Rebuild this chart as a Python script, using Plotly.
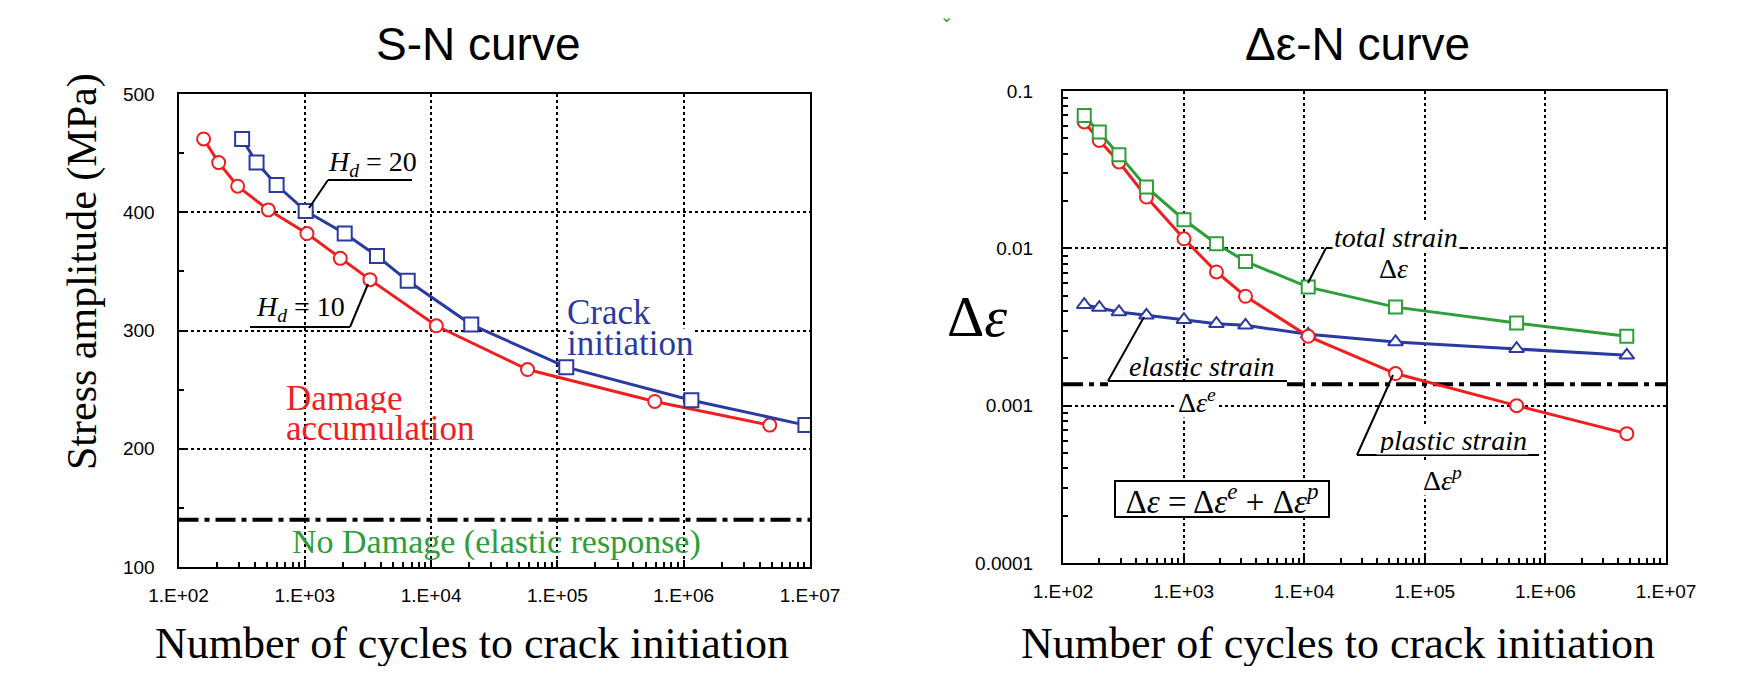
import plotly.graph_objects as go

# ---------------- data ----------------
# S-N curve (left)
sn_cycles_damage = [158, 208, 294, 514, 1040, 1910, 3280, 11000, 58000, 590000, 4.8e6]
sn_stress_damage = [462, 442, 422, 402, 382, 361, 343, 304, 267, 240, 220]
sn_cycles_crack = [319, 415, 598, 1016, 2070, 3730, 6530, 20800, 117500, 1.15e6, 9.2e6]
sn_stress_crack = [462, 442, 423, 401, 382, 363, 342, 305, 269, 241, 220]
sn_endurance_x = [1e2, 1e7]
sn_endurance_y = [140, 140]

# strain-life curve (right)
en_cycles = [150, 200, 291, 492, 1007, 1872, 3260, 10800, 57200, 577000, 4.73e6]
en_total = [0.0699, 0.0548, 0.0394, 0.0245, 0.0152, 0.0107, 0.00826, 0.00567, 0.00423, 0.00335, 0.00276]
en_plastic = [0.0636, 0.0485, 0.0354, 0.0212, 0.0115, 0.00708, 0.00496, 0.00276, 0.00160, 0.00100, 0.000664]
en_elastic = [0.00438, 0.0042, 0.00394, 0.00375, 0.00352, 0.00332, 0.00324, 0.00284, 0.00254, 0.00230, 0.00209]
en_endurance_x = [1e2, 1e7]
en_endurance_y = [0.00137, 0.00137]

x_tickvals = [1e2, 1e3, 1e4, 1e5, 1e6, 1e7]
x_ticktext = ["1.E+02", "1.E+03", "1.E+04", "1.E+05", "1.E+06", "1.E+07"]
sn_y_tickvals = [100, 200, 300, 400, 500]
sn_y_ticktext = ["100", "200", "300", "400", "500"]
en_y_tickvals = [0.0001, 0.001, 0.01, 0.1]
en_y_ticktext = ["0.0001", "0.001", "0.01", "0.1"]

# ---------------- style ----------------
# page body has an 8px margin: the figure is drawn inside it
OFF = 8
W, H = 1743 - 2 * OFF, 674 - 2 * OFF
RED = "#f01e1e"
BLUE = "#2a3aa0"
GREEN = "#2e9e3a"
SERIF = "Liberation Serif, Times New Roman, serif"
SANS = "Liberation Sans, Arial, sans-serif"


def PX(x):
    return (x - OFF) / W


def PY(y):
    return 1 - (y - OFF) / H


def P(x, y):
    return PX(x), PY(y)


fig = go.Figure()


def add_series(x, y, color, symbol, xa, ya, msize=12):
    fig.add_trace(go.Scatter(
        x=x, y=y, mode="lines+markers", xaxis=xa, yaxis=ya,
        line=dict(color=color, width=3),
        marker=dict(symbol=symbol, size=msize, color="white",
                    line=dict(color=color, width=2)),
        showlegend=False, hoverinfo="skip"))


def add_hline(x, y, xa, ya):
    fig.add_trace(go.Scatter(
        x=x, y=y, mode="lines", xaxis=xa, yaxis=ya,
        line=dict(color="black", width=4, dash="20px,6px,5px,6px"),
        showlegend=False, hoverinfo="skip"))


add_hline(sn_endurance_x, sn_endurance_y, "x", "y")
add_series(sn_cycles_damage, sn_stress_damage, RED, "circle", "x", "y", 13)
add_series(sn_cycles_crack, sn_stress_crack, BLUE, "square", "x", "y", 14)

add_hline(en_endurance_x, en_endurance_y, "x2", "y2")
add_series(en_cycles, en_elastic, BLUE, "triangle-up", "x2", "y2", 13)
add_series(en_cycles, en_plastic, RED, "circle", "x2", "y2", 13)
add_series(en_cycles, en_total, GREEN, "square", "x2", "y2", 13)

common_axis = dict(
    showline=True, linecolor="black", linewidth=2, mirror=True,
    ticks="inside", ticklen=7, tickwidth=1.5, tickcolor="black",
    showgrid=True, gridcolor="black", gridwidth=1.5, griddash="dot",
    zeroline=False, automargin=False,
    tickfont=dict(family=SANS, size=19, color="black"),
)

xlog = dict(common_axis, type="log", range=[2, 7], tickmode="array",
            tickvals=x_tickvals, ticktext=x_ticktext, ticklabelstandoff=10,
            minor=dict(ticks="inside", ticklen=5, tickcolor="black",
                       dtick="D1", showgrid=False))

fig.update_layout(
    width=W, height=H, margin=dict(l=0, r=0, t=0, b=0),
    paper_bgcolor="white", plot_bgcolor="white",
    xaxis=dict(xlog, domain=[PX(178.5), PX(810)], anchor="y"),
    yaxis=dict(common_axis, range=[100, 500], tickmode="array",
               tickvals=sn_y_tickvals, ticktext=sn_y_ticktext,
               ticklabelstandoff=18,
               domain=[PY(567), PY(94)], anchor="x",
               minor=dict(ticks="inside", ticklen=5, tickcolor="black",
                          dtick=50, showgrid=False)),
    xaxis2=dict(xlog, domain=[PX(1063), PX(1666)], anchor="y2"),
    yaxis2=dict(common_axis, type="log", range=[-4, -1], tickmode="array",
                tickvals=en_y_tickvals, ticktext=en_y_ticktext,
                ticklabelstandoff=24,
                domain=[PY(563), PY(91)], anchor="x2",
                minor=dict(ticks="inside", ticklen=5, tickcolor="black",
                           dtick="D1", showgrid=False)),
)

annotations = []
shapes = []


def text(x, y, s, size, color="black", family=SERIF, xanchor="center",
         bg=None, **kw):
    px, py = P(x, y)
    d = dict(x=px, y=py, xref="paper", yref="paper", text=s, showarrow=False,
             xanchor=xanchor, yanchor="middle",
             font=dict(family=family, size=size, color=color))
    if bg:
        d["bgcolor"] = bg
    d.update(kw)
    annotations.append(d)


def seg(x0, y0, x1, y1, width=2):
    a, b = P(x0, y0)
    c, d = P(x1, y1)
    shapes.append(dict(type="line", xref="paper", yref="paper",
                       x0=a, y0=b, x1=c, y1=d, layer="above",
                       line=dict(color="black", width=width)))


def blank(x0, y0, x1, y1, layer="between"):
    a, b = P(x0, y0)
    c, d = P(x1, y1)
    shapes.append(dict(type="rect", xref="paper", yref="paper",
                       x0=a, y0=b, x1=c, y1=d, layer=layer,
                       fillcolor="white", line=dict(width=0)))


# white areas behind the labels (hide grid lines, as in the source figure)
blank(268, 384, 492, 562)
blank(1108, 382, 1287, 390, layer="above")

# titles
text(478, 44, "S-N curve", 46, family=SANS)
text(1357, 44, "Δε-N curve", 46, family=SANS)
text(472, 643, "Number of cycles to crack initiation", 44, height=46,
     borderpad=0)
text(1338, 643, "Number of cycles to crack initiation", 44, height=46,
     borderpad=0)
text(83, 272, "Stress amplitude (MPa)", 42, textangle=-90)
text(977, 316, "Δ<i>ε</i>", 58)
text(946, 16, "⌄", 16, color=GREEN, family=SANS)

# left annotations
text(372, 163, "<i>H</i><sub><i>d</i></sub> = 20", 28)
seg(328, 180, 412, 180)
seg(328, 180, 309, 208)
text(300, 309, "<i>H</i><sub><i>d</i></sub> = 10", 28)
seg(250, 327, 350, 327)
seg(350, 327, 368, 284)
text(566, 343, "initiation", 35, color=BLUE, xanchor="left", bg="white",
     height=29, borderpad=0)
text(566, 312, "Crack", 35, color=BLUE, xanchor="left", height=29,
     borderpad=0)
text(285, 428, "accumulation", 35, color=RED, xanchor="left", height=29,
     borderpad=0)
text(285, 398, "Damage", 35, color=RED, xanchor="left", height=29,
     borderpad=0)
text(496, 542, "No Damage (elastic response)", 34, color=GREEN)

# right annotations
text(1396, 237, "<i>total strain</i>", 28, bg="white", height=26)
seg(1326, 248, 1468, 248)
seg(1326, 248, 1308, 283)
text(1393, 268, "Δ<i>ε</i>", 28, bg="white", height=28)
text(1201, 366, "<i>elastic strain</i>", 28, height=26)
seg(1108, 381, 1287, 381)
seg(1108, 381, 1144, 317)
text(1197, 401, "Δ<i>ε</i><sup><i>e</i></sup>", 28, bg="white", height=30)
text(1452, 440, "<i>plastic strain</i>", 28, bg="white", height=26)
seg(1357, 455, 1539, 455)
seg(1357, 455, 1393, 375)
text(1442, 479, "Δ<i>ε</i><sup><i>p</i></sup>", 28, bg="white", height=30)
text(1222, 499, "Δ<i>ε</i> = Δ<i>ε</i><sup><i>e</i></sup> + Δ<i>ε</i><sup><i>p</i></sup>",
     33, bg="white", bordercolor="black", borderwidth=2, borderpad=0,
     width=212, height=34)

fig.update_layout(annotations=annotations, shapes=shapes)

fig.write_html("out.html")
